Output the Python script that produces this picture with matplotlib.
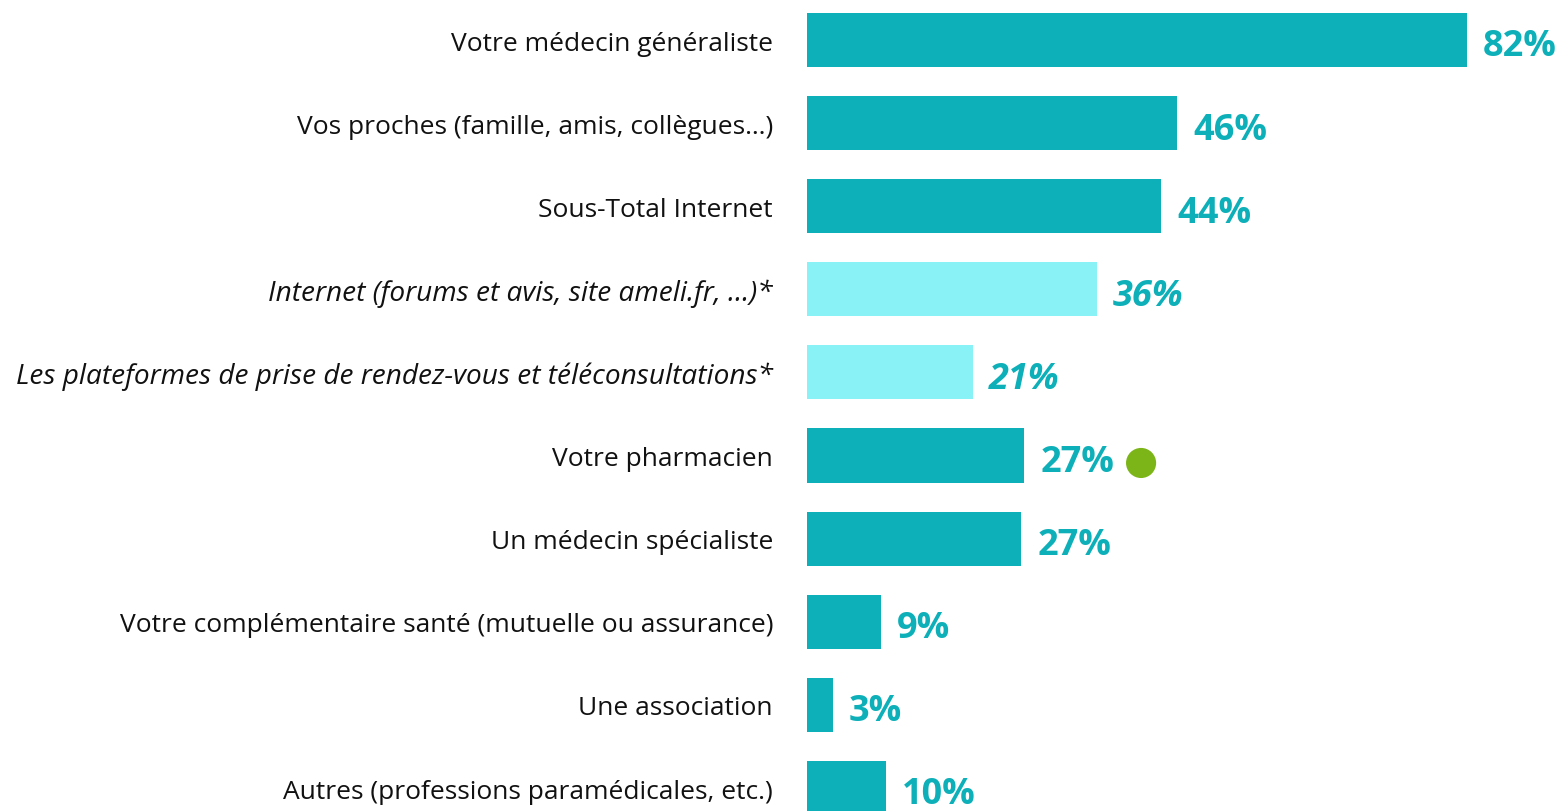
import numpy as np
import matplotlib.pyplot as plt

plt.rcParams['font.family'] = ['Open Sans', 'DejaVu Sans']

categories = [
    "Votre médecin généraliste",
    "Vos proches (famille, amis, collègues…)",
    "Sous-Total Internet",
    "Internet (forums et avis, site ameli.fr, …)*",
    "Les plateformes de prise de rendez-vous et téléconsultations*",
    "Votre pharmacien",
    "Un médecin spécialiste",
    "Votre complémentaire santé (mutuelle ou assurance)",
    "Une association",
    "Autres (professions paramédicales, etc.)",
]
values = [82, 46, 44, 36, 20.6, 27, 26.6, 9.2, 3.2, 9.8]
value_labels = ["82%", "46%", "44%", "36%", "21%", "27%", "27%", "9%", "3%", "10%"]
italic_rows = [False, False, False, True, True, False, False, False, False, False]
dot_row = 5  # green dot next to "Votre pharmacien"

dark = '#0DAFB8'
light = '#88F2F7'
green = '#7CB518'

W, H = 1565, 811
fig = plt.figure(figsize=(W / 100, H / 100), dpi=100)
left_px = 807
px_per_unit = 8.05
row_px = 83.1
first_center = 40

ax = fig.add_axes([left_px / W, 0, 1 - left_px / W, 1])
ax.set_xlim(0, (W - left_px) / px_per_unit)
ax.set_ylim((H - first_center) / row_px, -first_center / row_px)
ax.axis('off')

y = np.arange(len(categories))
colors = [light if it else dark for it in italic_rows]
ax.barh(y, values, height=0.65, color=colors)

lab_off = -34 / px_per_unit
val_off = 16 / px_per_unit
for i, (cat, v, vl, it) in enumerate(zip(categories, values, value_labels, italic_rows)):
    ax.text(lab_off, i + 0.05, cat, ha='right', va='center', fontsize=20.2 if it else 19,
            style='italic' if it else 'normal', color='#111111', clip_on=False)
    ax.text(v + val_off, i + 0.09, vl, ha='left', va='center', fontsize=26,
            fontweight='bold', style='italic' if it else 'normal', color=dark)

ax.scatter([values[dot_row] + 41.5 - 27], [dot_row + 0.09], s=470, color=green,
           edgecolors='none', zorder=3)

fig.savefig('out.png', dpi=100)
